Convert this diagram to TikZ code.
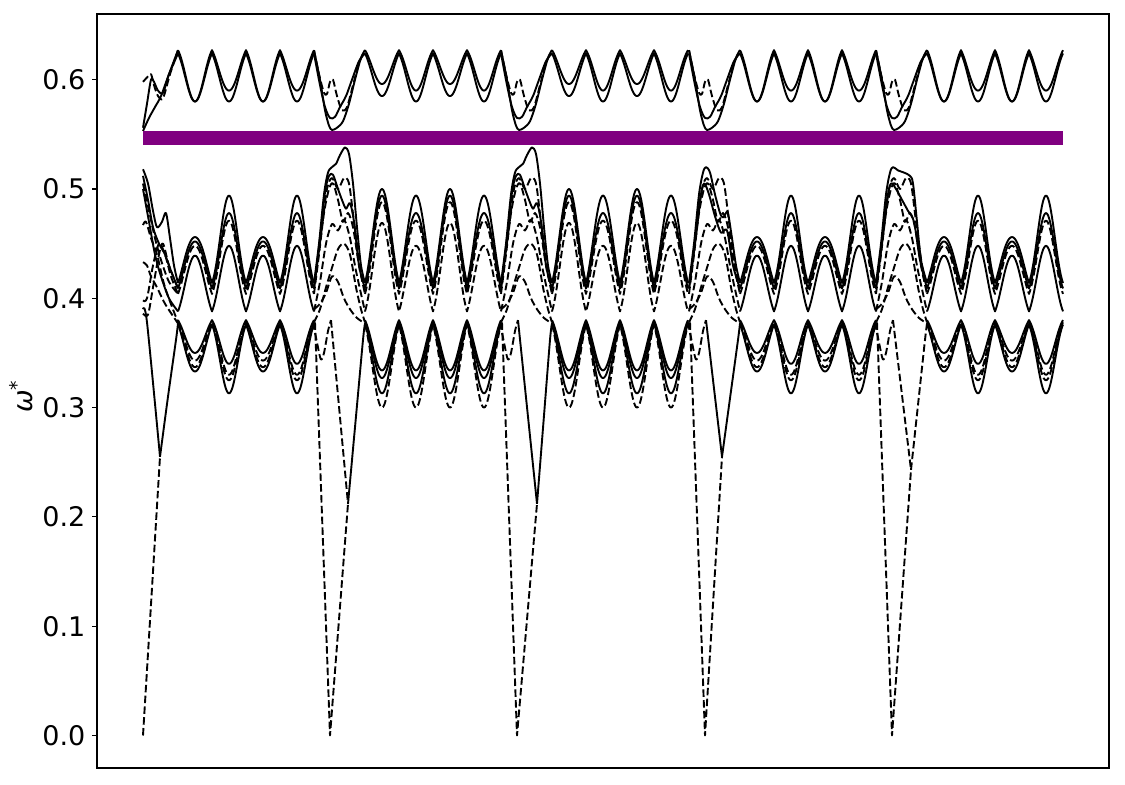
\documentclass[tikz,border=0pt]{standalone}
\usepackage{fontspec}
\setmainfont{DejaVu Sans}
\definecolor{mplpurple}{RGB}{128,0,128}
\tikzset{
  sl/.style={line width=1.9pt, line join=round},
  dl/.style={line width=1.9pt, line join=round, dash pattern=on 7.5pt off 3.3pt},
  ticklab/.style={anchor=east, inner sep=0pt, font=\fontsize{27}{30}\selectfont},
}
% periodic curve: style, segment start, value at u=35, mean value at u=52, alternation
\newcommand\bc[5]{%
  \draw[#1] plot[domain=#2+35:#2+171, samples=137] (\x, {(#3) + ((#4) + (#5)*cos(5.294118*(\x-#2-52)) - (#3))*(0.45*abs(sin(5.294118*(\x-#2-35))) + 0.55*(sin(5.294118*(\x-#2-35)))^2)});
}
\newcommand\segA[1]{%
  \bc{sl}{#1}{0.627}{0.585}{-0.005}
  \bc{sl}{#1}{0.624}{0.58}{0}
  \bc{sl}{#1}{0.414}{0.475}{-0.019}
  \bc{sl}{#1}{0.409}{0.465}{-0.013}
  \bc{dl}{#1}{0.404}{0.4595}{-0.0115}
  \bc{sl}{#1}{0.388}{0.4435}{-0.0045}
  \bc{sl}{#1}{0.38}{0.345}{0.005}
  \bc{dl}{#1}{0.378}{0.3365}{0.0065}
  \bc{dl}{#1}{0.377}{0.331}{0.006}
  \bc{sl}{#1}{0.376}{0.323}{0.010}
}
\newcommand\segB[1]{%
  \bc{sl}{#1}{0.627}{0.593}{0.003}
  \bc{sl}{#1}{0.624}{0.5825}{0.0025}
  \bc{sl}{#1}{0.414}{0.497}{0.003}
  \bc{sl}{#1}{0.409}{0.486}{0.008}
  \bc{dl}{#1}{0.404}{0.4795}{0.0085}
  \bc{dl}{#1}{0.388}{0.4585}{0.0105}
  \bc{sl}{#1}{0.38}{0.334}{0}
  \bc{sl}{#1}{0.378}{0.327}{0}
  \bc{sl}{#1}{0.377}{0.313}{0}
  \bc{dl}{#1}{0.376}{0.30}{0}
}
\newcommand\topbnd{%
  \draw[sl] plot[smooth] coordinates {(-16,0.627) (-10,0.60) (-5,0.572) (-1,0.558) (2,0.554) (7,0.556) (13,0.562) (19,0.578) (25,0.60) (31,0.62) (35,0.627)};
  \draw[sl] plot[smooth] coordinates {(-16,0.624) (-10,0.595) (-5,0.575) (0,0.565) (5,0.566) (10,0.575) (16,0.585) (22,0.60) (29,0.617) (35,0.624)};
  \draw[dl] plot[smooth] coordinates {(-16,0.627) (-11,0.605) (-6,0.588) (-3,0.587) (0,0.598) (3,0.60) (7,0.585) (12,0.572) (17,0.575) (23,0.595) (29,0.615) (35,0.627)};
}
\newcommand\fanlines{%
  \draw[dl] plot[smooth] coordinates {(-16,0.404) (-11,0.44) (-6,0.478) (-1,0.50) (3,0.505) (8,0.49) (13,0.47) (18,0.478) (23,0.465) (29,0.43) (35,0.404)};
  \draw[dl] plot[smooth] coordinates {(-16,0.388) (-10,0.415) (-4,0.45) (2,0.468) (8,0.462) (14,0.472) (20,0.455) (26,0.425) (35,0.388)};
  \draw[dl] plot[smooth] coordinates {(-16,0.378) (-10,0.39) (-4,0.41) (2,0.428) (8,0.445) (14,0.45) (20,0.44) (26,0.41) (31,0.39) (35,0.378)};
  \draw[dl] plot[smooth] coordinates {(-16,0.39) (-10,0.395) (-4,0.405) (2,0.42) (8,0.415) (14,0.40) (20,0.39) (27,0.382) (35,0.377)};
  \draw[dl] plot[smooth] coordinates {(-16,0.409) (-8,0.465) (-3,0.50) (2,0.51) (8,0.50) (14,0.51) (19,0.505) (24,0.47) (30,0.43) (35,0.409)};
}
\newcommand\humpB{%
  \draw[sl] plot[smooth] coordinates {(-16,0.414) (-11,0.45) (-6,0.495) (-2,0.515) (2,0.52) (6,0.523) (10,0.531) (15,0.538) (19,0.532) (23,0.505) (27,0.465) (31,0.43) (35,0.414)};
  \draw[sl] plot[smooth] coordinates {(-16,0.409) (-10,0.455) (-5,0.497) (-1,0.512) (3,0.513) (8,0.50) (12,0.49) (16,0.482) (20,0.487) (24,0.47) (29,0.43) (35,0.409)};
}
\newcommand\humpAa{%
  \draw[sl] plot[smooth] coordinates {(-16,0.414) (-11,0.45) (-6,0.495) (-2,0.515) (1,0.52) (5,0.515) (10,0.495) (15,0.478) (18,0.474) (21,0.478) (23,0.478) (27,0.455) (31,0.43) (35,0.414)};
  \draw[sl] plot[smooth] coordinates {(-16,0.409) (-10,0.45) (-5,0.49) (-1,0.505) (4,0.495) (10,0.475) (16,0.46) (22,0.462) (28,0.43) (35,0.409)};
}
\newcommand\humpAb{%
  \draw[sl] plot[smooth] coordinates {(-16,0.414) (-11,0.45) (-6,0.495) (-2,0.515) (1,0.52) (6,0.517) (12,0.515) (18,0.512) (21,0.505) (25,0.47) (29,0.435) (35,0.414)};
  \draw[sl] plot[smooth] coordinates {(-16,0.409) (-10,0.45) (-5,0.49) (-1,0.505) (4,0.50) (10,0.49) (16,0.48) (22,0.47) (28,0.435) (35,0.409)};
}
% boundary: s, xb, vb, left arm style, right arm style, hump
\newcommand\bnd[6]{%
  \begin{scope}[shift={(#1,0)}]
    \topbnd
    #6
    \fanlines
    \draw[dl] (-15,0.378) -- (0,0) -- (#2,#3);
    \draw[dl] plot[smooth] coordinates {(-17,0.378) (-12,0.355) (-9,0.344) (-6,0.350) (-2,0.37) (1,0.38)};
    \draw[#4] (1,0.38) -- (#2,#3);
    \draw[#5] plot[smooth] coordinates {(#2,#3) ({#2+0.5*(33-#2)},{#3+0.5*(0.362-#3)}) (33,0.362) (35,0.377)};
  \end{scope}
}
\begin{document}
\begin{tikzpicture}[x=1pt,y=1093pt]
\useasboundingbox (0,-0.04529) rectangle (1125,0.67292);
\segA{143}
\segB{330}
\segB{517}
\segA{705}
\segA{892}
% start of the path
\begin{scope}[shift={(143,0)}]
  \draw[sl] plot[smooth] coordinates {(0,0.556) (4,0.578) (8,0.60) (11,0.598) (15,0.59) (20,0.588) (26,0.605) (35,0.627)};
  \draw[sl] plot[smooth] coordinates {(0,0.553) (6,0.565) (12,0.575) (18,0.585) (26,0.605) (35,0.624)};
  \draw[dl] plot[smooth] coordinates {(0,0.598) (4,0.602) (8,0.605) (11,0.595) (15,0.585) (20,0.583) (27,0.605) (35,0.627)};
  \draw[sl] plot[smooth] coordinates {(0,0.518) (5,0.505) (10,0.48) (14,0.465) (19,0.47) (23,0.478) (27,0.455) (31,0.43) (35,0.414)};
  \draw[sl] plot[smooth] coordinates {(0,0.512) (5,0.49) (10,0.465) (16,0.45) (22,0.44) (28,0.425) (35,0.409)};
  \draw[dl] plot[smooth] coordinates {(0,0.505) (6,0.48) (12,0.455) (18,0.435) (26,0.415) (35,0.404)};
  \draw[sl] plot[smooth] coordinates {(0,0.50) (6,0.47) (12,0.44) (18,0.42) (26,0.40) (35,0.388)};
  \draw[dl] plot[smooth] coordinates {(0,0.467) (3,0.47) (8,0.455) (14,0.44) (22,0.41) (35,0.378)};
  \draw[dl] plot[smooth] coordinates {(0,0.433) (4,0.43) (8,0.42) (14,0.41) (22,0.395) (35,0.377)};
  \draw[dl] plot[smooth] coordinates {(0,0.398) (4,0.40) (10,0.43) (16,0.45) (22,0.44) (28,0.42) (35,0.404)};
  \draw[dl] plot[smooth] coordinates {(0,0.386) (5,0.385) (10,0.41) (16,0.44) (20,0.45) (26,0.43) (35,0.409)};
  \draw[sl] plot[smooth] coordinates {(0,0.39) (4,0.378) (17,0.255)};
  \draw[sl] plot[smooth] coordinates {(17,0.255) (25,0.31) (33,0.362) (35,0.377)};
  \draw[dl] (0,0) -- (17,0.255);
\end{scope}
\bnd{330}{18}{0.212}{dl}{sl}{\humpB}
\bnd{517}{20}{0.212}{sl}{sl}{\humpB}
\bnd{705}{17}{0.255}{sl}{sl}{\humpAa}
\bnd{892}{19}{0.243}{dl}{dl}{\humpAb}
% band
\fill[mplpurple] (143,0.5403) rectangle (1063,0.5531);
% axes
\draw[line width=1.1pt] (97,-0.02973) rectangle (1109,0.66011);
\foreach \i in {0,...,6} {
  \draw[line width=1.1pt] (92,\i/10) -- (97,\i/10);
  \node[ticklab] (tick\i) at (85.5,\i/10) {0.\i};
}
\node[rotate=90, inner sep=0pt, font=\fontsize{27}{30}\selectfont] (ylab) at (21,0.31) {{\itshape ω}\textsuperscript{*}};
\end{tikzpicture}
\end{document}
